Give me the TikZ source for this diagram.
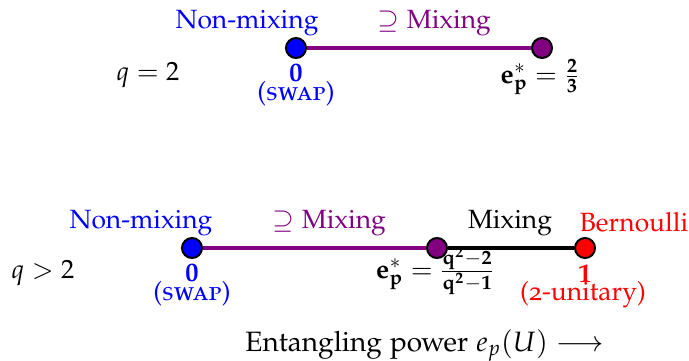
\documentclass[tikz,border=0pt]{standalone}
\usepackage[T1]{fontenc}
\usepackage[osf]{mathpazo}
\usepackage{amsmath,amssymb}
\definecolor{mypurple}{RGB}{128,0,128}
\tikzset{
  dot/.style={circle, draw=black, line width=1pt, minimum size=10pt, inner sep=0pt},
  lbl/.style={anchor=base, inner sep=0pt, font=\fontsize{13.2}{16}\selectfont},
  axlbl/.style={anchor=base west, inner sep=0pt, font=\fontsize{14}{17}\selectfont},
  seg/.style={line width=2pt},
}
\begin{document}
\begin{tikzpicture}[x=0.5pt,y=-0.5pt]
\useasboundingbox (0,0) rectangle (689,360);
% top row q=2
\node[lbl] (q2) at (148,80) {$q=2$};
\node[dot, fill=blue] (a0) at (296,48) {};
\node[dot, fill=mypurple] (a1) at (542,48) {};
\draw[seg, mypurple] (a0) -- (a1);
\node[lbl, blue] (anm) at (247,28) {Non-mixing};
\node[lbl, mypurple] (amx) at (434,28) {$\supseteq$ Mixing};
\node[lbl, blue] (a0v) at (296,81) {$\mathbf{0}$};
\node[lbl, blue] (a0s) at (296,100) {(\textsc{swap})};
\node[lbl] (a1v) at (540,83) {$\mathbf{e_p^* = \frac{2}{3}}$};
% bottom row q>2
\node[lbl] (qg) at (43,278) {$q>2$};
\node[dot, fill=blue] (b0) at (192,248) {};
\node[dot, fill=mypurple] (b1) at (437,248) {};
\node[dot, fill=red] (b2) at (585,248) {};
\draw[seg, mypurple] (b0) -- (b1);
\draw[seg, black] (b1) -- (b2);
\node[lbl, blue] (bnm) at (141,228) {Non-mixing};
\node[lbl, mypurple] (bmx) at (329,228) {$\supseteq$ Mixing};
\node[lbl] (bmix) at (510,228) {Mixing};
\node[lbl, red] (bber) at (634,231) {Bernoulli};
\node[lbl, blue] (b0v) at (192,281) {$\mathbf{0}$};
\node[lbl, blue] (b0s) at (192,300) {(\textsc{swap})};
\node[lbl] (b1v) at (435,278) {$\mathbf{e_p^* = \frac{q^2-2}{q^2-1}}$};
\node[lbl, red] (b2v) at (585,282) {$\mathbf{1}$};
\node[lbl, red] (b2s) at (583,300) {(2-unitary)};
% axis label
\node[axlbl] (ax) at (245,351) {Entangling power $e_p(U)\longrightarrow$};
\end{tikzpicture}
\end{document}
